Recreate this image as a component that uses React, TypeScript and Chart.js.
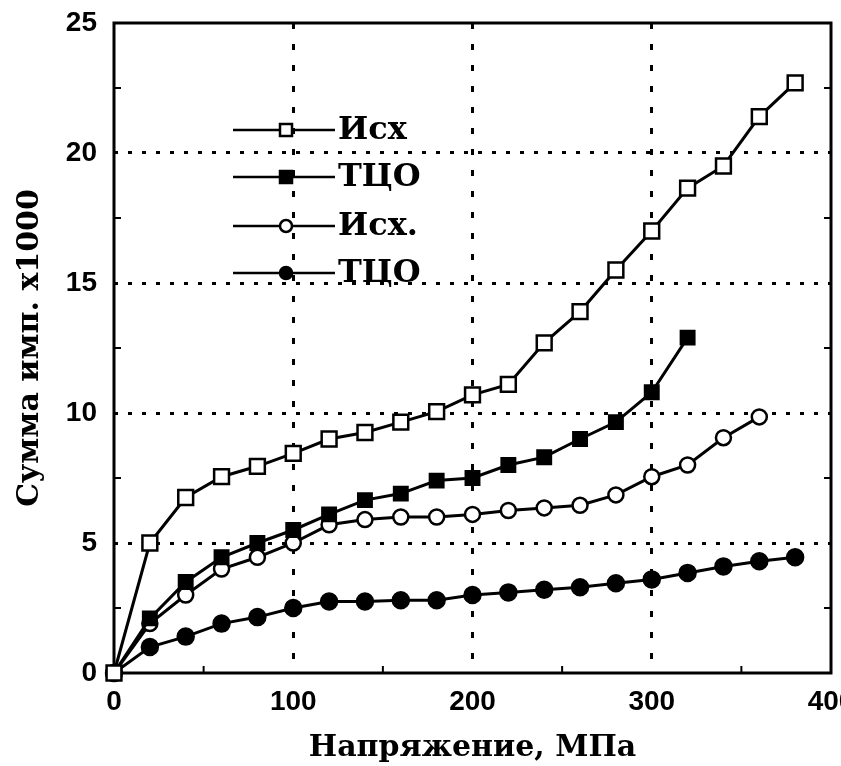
import React, { useEffect, useRef } from "react";
import { Chart, registerables } from "chart.js";

Chart.register(...registerables);

// ---- data ----
const stressMPa = [0, 20, 40, 60, 80, 100, 120, 140, 160, 180, 200, 220, 240, 260, 280, 300, 320, 340, 360, 380];
const ishSquares = [0, 5.0, 6.75, 7.55, 7.95, 8.45, 9.0, 9.25, 9.65, 10.05, 10.7, 11.1, 12.7, 13.9, 15.5, 17.0, 18.65, 19.5, 21.4, 22.7];
const tcoSquares = [0, 2.1, 3.5, 4.45, 5.0, 5.5, 6.1, 6.65, 6.9, 7.4, 7.5, 8.0, 8.3, 9.0, 9.65, 10.8, 12.9];
const ishCircles = [0, 1.9, 3.0, 4.0, 4.45, 5.0, 5.7, 5.9, 6.0, 6.0, 6.1, 6.25, 6.35, 6.45, 6.85, 7.55, 8.0, 9.05, 9.85];
const tcoCircles = [0, 1.0, 1.4, 1.9, 2.15, 2.5, 2.75, 2.75, 2.8, 2.8, 3.0, 3.1, 3.2, 3.3, 3.45, 3.6, 3.85, 4.1, 4.3, 4.45];
const seriesLabels = ["Исх", "ТЦО", "Исх.", "ТЦО"];
const xTickValues = [0, 100, 200, 300, 400];
const yTickValues = [0, 5, 10, 15, 20, 25];
const xMinorTicks = [50, 150, 250, 350];
const yMinorTicks = [2.5, 7.5, 12.5, 17.5, 22.5];
const xTitle = "Напряжение, МПа";
const yTitle = "Сумма имп. x1000";

const toPoints = (ys: number[]) => ys.map((y, i) => ({ x: stressMPa[i], y }));

const frameAndMinorTicks = {
  id: "frameAndMinorTicks",
  beforeDatasetsDraw(chart: any) {
    const { ctx, chartArea } = chart;
    const xs = chart.scales.x;
    const ys = chart.scales.y;
    ctx.save();
    ctx.strokeStyle = "#000";
    ctx.lineWidth = 3;
    ctx.setLineDash([]);
    ctx.strokeRect(chartArea.left, chartArea.top, chartArea.right - chartArea.left, chartArea.bottom - chartArea.top);
    ctx.lineWidth = 2;
    ctx.beginPath();
    xMinorTicks.forEach((v) => {
      const px = xs.getPixelForValue(v);
      ctx.moveTo(px, chartArea.bottom);
      ctx.lineTo(px, chartArea.bottom - 7);
    });
    yMinorTicks.forEach((v) => {
      const py = ys.getPixelForValue(v);
      ctx.moveTo(chartArea.left, py);
      ctx.lineTo(chartArea.left + 7, py);
      ctx.moveTo(chartArea.right, py);
      ctx.lineTo(chartArea.right - 7, py);
    });
    ctx.stroke();
    ctx.restore();
  },
};

const insideLegend = {
  id: "insideLegend",
  afterDraw(chart: any) {
    const { ctx } = chart;
    const rows = [130, 177, 226, 273];
    const lineStart = 233;
    const lineEnd = 335;
    const markerX = 286;
    const textX = 338;
    chart.data.datasets.forEach((ds: any, i: number) => {
      const y = rows[i];
      ctx.save();
      ctx.strokeStyle = "#000";
      ctx.lineWidth = 2.5;
      ctx.beginPath();
      ctx.moveTo(lineStart, y);
      ctx.lineTo(lineEnd, y);
      ctx.stroke();
      ctx.fillStyle = ds.pointBackgroundColor;
      ctx.lineWidth = 2.5;
      ctx.beginPath();
      if (ds.pointStyle === "rect") {
        ctx.rect(markerX - 6, y - 6, 12, 12);
      } else {
        ctx.arc(markerX, y, 6, 0, Math.PI * 2);
      }
      ctx.fill();
      ctx.stroke();
      ctx.fillStyle = "#000";
      ctx.font = "bold 32px 'DejaVu Serif'";
      ctx.textBaseline = "middle";
      ctx.textAlign = "left";
      ctx.fillText(ds.label, textX, y + 1);
      ctx.restore();
    });
  },
};

export default function App() {
  const ref = useRef<HTMLCanvasElement | null>(null);

  useEffect(() => {
    if (!ref.current) return;
    const common = {
      borderColor: "#000",
      borderWidth: 3,
      pointBorderColor: "#000",
      pointBorderWidth: 2.5,
      tension: 0,
      clip: false as any,
    };
    const chart = new Chart(ref.current, {
      type: "line",
      data: {
        datasets: [
          { ...common, label: seriesLabels[0], data: toPoints(ishSquares), pointStyle: "rect", pointRadius: 10.5, pointBackgroundColor: "#fff" },
          { ...common, label: seriesLabels[1], data: toPoints(tcoSquares), pointStyle: "rect", pointRadius: 9.5, pointBackgroundColor: "#000" },
          { ...common, label: seriesLabels[2], data: toPoints(ishCircles), pointStyle: "circle", pointRadius: 7.5, pointBackgroundColor: "#fff" },
          { ...common, label: seriesLabels[3], data: toPoints(tcoCircles), pointStyle: "circle", pointRadius: 8, pointBackgroundColor: "#000" },
        ],
      },
      options: {
        animation: false,
        responsive: false,
        devicePixelRatio: 1,
        layout: { autoPadding: false, padding: { top: 23, right: 10, left: 0, bottom: 0 } },
        plugins: { legend: { display: false }, tooltip: { enabled: false } },
        scales: {
          x: {
            type: "linear",
            min: 0,
            max: 400,
            afterBuildTicks: (s: any) => {
              s.ticks = xTickValues.map((v) => ({ value: v }));
            },
            afterFit: (s: any) => {
              s.height = 93;
              s.paddingRight = 0;
              s.paddingLeft = 0;
            },
            grid: {
              drawTicks: false,
              lineWidth: 3,
              color: (c: any) => (c.tick && (c.tick.value === 0 || c.tick.value === 400) ? "rgba(0,0,0,0)" : "#000"),
            },
            border: { display: false, dash: [6, 15] },
            ticks: {
              padding: 12,
              color: "#000",
              maxRotation: 0,
              autoSkip: false,
              font: { family: "Liberation Sans", weight: "bold", size: 28 },
            },
            title: {
              display: true,
              text: xTitle,
              color: "#000",
              padding: { top: 0, bottom: 0 },
              font: { family: "DejaVu Serif", weight: "bold", size: 30, lineHeight: 1.2 },
            },
          },
          y: {
            type: "linear",
            min: 0,
            max: 25,
            afterBuildTicks: (s: any) => {
              s.ticks = yTickValues.map((v) => ({ value: v }));
            },
            afterFit: (s: any) => {
              s.width = 114;
              s.paddingTop = 0;
              s.paddingBottom = 0;
            },
            grid: {
              drawTicks: false,
              lineWidth: 3,
              color: (c: any) => (c.tick && (c.tick.value === 0 || c.tick.value === 25) ? "rgba(0,0,0,0)" : "#000"),
            },
            border: { display: false, dash: [4, 10] },
            ticks: {
              padding: 17,
              color: "#000",
              autoSkip: false,
              font: { family: "Liberation Sans", weight: "bold", size: 28 },
            },
            title: {
              display: true,
              text: yTitle,
              color: "#000",
              padding: { top: 12, bottom: 0 },
              font: { family: "DejaVu Serif", weight: "bold", size: 30, lineHeight: 1.2 },
            },
          },
        },
      },
      plugins: [frameAndMinorTicks, insideLegend],
    } as any);
    return () => chart.destroy();
  }, []);

  return (
    <div style={{ position: "fixed", left: 0, top: 0, width: 841, height: 766, background: "#fff" }}>
      <canvas ref={ref} width={841} height={766} style={{ display: "block", width: 841, height: 766 }} />
    </div>
  );
}
